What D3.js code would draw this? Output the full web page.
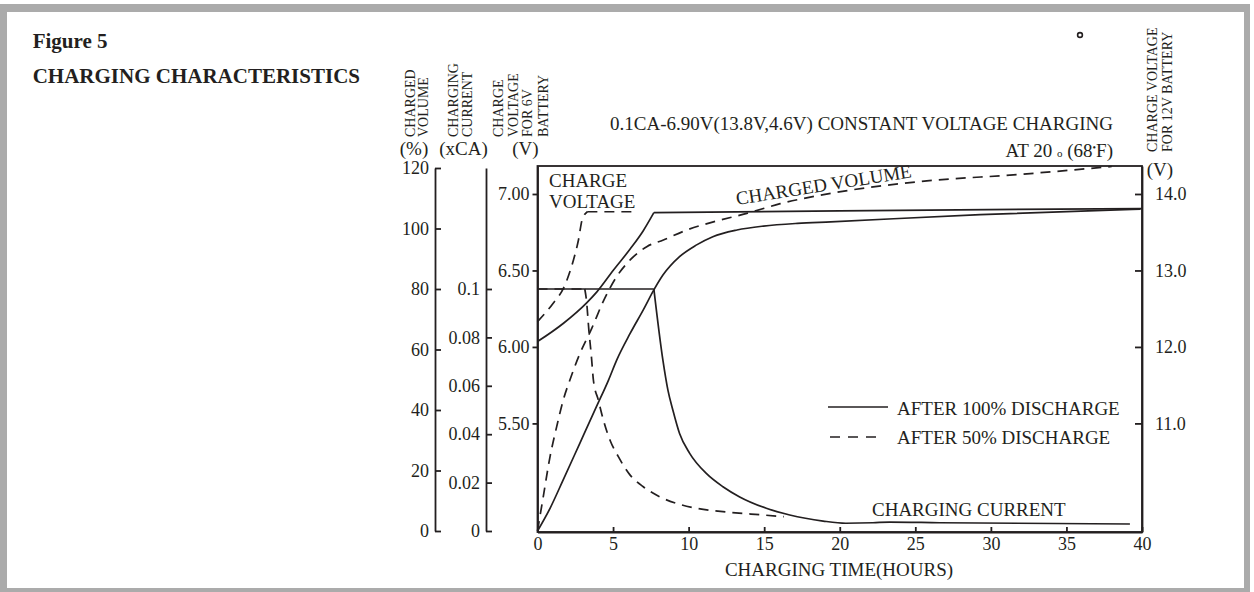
<!DOCTYPE html>
<html lang="en">
<head>
<meta charset="utf-8">
<style>
  body{ margin:0; background:#fff; }
  svg text{ font-family:"Liberation Serif","Times New Roman",serif; fill:#231f20; }
  .axis path, .axis line{ stroke:#231f20; stroke-width:1.8; }
  .axis text{ font-size:18px; }
  .curve{ fill:none; stroke:#231f20; stroke-width:1.7; }
  .dash{ stroke-dasharray:10,7; }
  .lbl{ font-size:19px; }
  .vlbl{ font-size:14px; }
</style>
</head>
<body>
<script src="https://d3js.org/d3.v7.min.js"></script>
<script>
// tick values
var hourTicks = [0, 5, 10, 15, 20, 25, 30, 35, 40];
var volTicks = [0, 20, 40, 60, 80, 100, 120];
var curTicks = [0, 0.02, 0.04, 0.06, 0.08, 0.1];
var v6Ticks = [5.5, 6.0, 6.5, 7.0];
var v12Ticks = [11, 12, 13, 14];

// [hours, value]
// charge voltage (6V battery)
var voltFull = [[0,6.035],[1.72,6.155],[3.27,6.29],[3.93,6.36],[5.03,6.503],[6.13,6.64],[7.0,6.76],[7.7,6.878],[20,6.89],[40,6.905]];
var voltHalf = [[0,6.165],[1.04,6.286],[1.72,6.384],[2.38,6.569],[2.71,6.699],[2.95,6.83],[3.3,6.884],[6.3,6.884]];
// charged volume (%)
var volFull = [[0,0],[0.83,7.5],[1.7,16.9],[2.8,29],[3.9,41.1],[4.7,49.9],[5.24,56.5],[6.13,65.3],[7.0,73.1],[7.7,79.7],[8.3,84.6],[9.4,90.7],[10.5,94.5],[11.6,97.3],[13.2,99.5],[14.95,100.8],[17.2,101.7],[19.4,102.2],[29.3,104.6],[39.9,106.4]];
var volHalf = [[0,0],[0.38,11.3],[0.83,24.6],[1.27,34.5],[1.71,43.4],[2.15,50],[2.81,58.7],[3.59,67.0],[4.36,76.0],[5.24,84.1],[6.13,89.6],[7.23,94],[8.33,96.2],[9.88,99.5],[11.64,102.2],[13.85,105],[16.06,108.2],[18.7,111],[25.3,115.5],[31.96,117.9],[38,120.5]];
// charging current (xCA)
var curFull = [[0,0.1],[7.7,0.1],[8.3,0.0705],[8.63,0.0582],[8.96,0.0499],[9.4,0.0403],[10.07,0.0321],[11.17,0.0238],[12.27,0.0183],[13.38,0.0141],[15.14,0.0094],[16.69,0.0066],[18.9,0.0041],[20.4,0.0032],[22.2,0.0034],[23.3,0.0037],[26.6,0.0034],[39.2,0.0029]];
var curHalf = [[0,0.1],[3.13,0.1],[3.24,0.0953],[3.4,0.0829],[3.56,0.0726],[3.7,0.0623],[4.03,0.054],[4.36,0.0458],[4.8,0.0375],[5.35,0.0307],[6.13,0.0231],[7.0,0.0183],[8.1,0.0141],[9.2,0.0114],[10.5,0.0094],[12.75,0.0077],[14.95,0.0066],[16.3,0.0059]];

var W = 1254, H = 592;
var box = {left:537.5, right:1142, top:166, bottom:532};

var svg = d3.select("body").append("svg")
    .attr("width", W).attr("height", H);

// gray frame
var frameCol = "#ababab";
svg.append("rect").attr("x",0).attr("y",4).attr("width",1250).attr("height",8).attr("fill",frameCol);
svg.append("rect").attr("x",0).attr("y",4).attr("width",7).attr("height",588).attr("fill",frameCol);
svg.append("rect").attr("x",1244).attr("y",4).attr("width",6).attr("height",588).attr("fill",frameCol);
svg.append("rect").attr("x",0).attr("y",588).attr("width",1250).attr("height",4).attr("fill",frameCol);

// scales
var x = d3.scaleLinear().domain([0,40]).range([box.left, box.right]);
var yVol = d3.scaleLinear().domain([0,120]).range([531,168]);
var yCur = d3.scaleLinear().domain([0,0.15]).range([531,168]);
var yV6 = d3.scaleLinear().domain([4.79,7.183]).range([box.bottom, box.top]);
var yV12 = d3.scaleLinear().domain([9.58,14.366]).range([box.bottom, box.top]);

// plot box
svg.append("rect")
    .attr("x", box.left).attr("y", box.top)
    .attr("width", box.right-box.left).attr("height", box.bottom-box.top)
    .attr("fill","none").attr("stroke","#231f20").attr("stroke-width",1.8);

// axes
svg.append("g").attr("class","axis")
    .attr("transform","translate(0,"+box.bottom+")")
    .call(d3.axisBottom(x).tickValues(hourTicks).tickSize(-5).tickSizeOuter(0).tickPadding(5));

svg.append("g").attr("class","axis")
    .attr("transform","translate("+box.left+",0)")
    .call(d3.axisLeft(yV6).tickValues(v6Ticks).tickFormat(d3.format(".2f"))
          .tickSize(5).tickSizeOuter(0).tickPadding(3));

svg.append("g").attr("class","axis")
    .attr("transform","translate("+box.right+",0)")
    .call(d3.axisRight(yV12).tickValues(v12Ticks).tickFormat(d3.format(".1f"))
          .tickSize(-7).tickSizeOuter(0).tickPadding(13));

svg.append("g").attr("class","axis")
    .attr("transform","translate(435,0)")
    .call(d3.axisLeft(yVol).tickValues(volTicks).tickSize(-6).tickSizeOuter(0).tickPadding(6));

svg.append("g").attr("class","axis")
    .attr("transform","translate(486,0)")
    .call(d3.axisLeft(yCur).tickValues(curTicks).tickFormat(function(d){ return String(+d.toFixed(2)); })
          .tickSize(-6).tickSizeOuter(0).tickPadding(6));

// curves, split at corners so they stay sharp
function curvePath(pts, ys, breaks){
    var line = d3.line()
        .x(function(d){ return x(d[0]); })
        .y(function(d){ return ys(d[1]); })
        .curve(d3.curveMonotoneX);
    var parts = [], s = 0;
    breaks.concat([pts.length-1]).forEach(function(b){
        parts.push(line(pts.slice(s, b+1)));
        s = b;
    });
    return parts.join("");
}

svg.append("path").attr("class","curve").attr("d", curvePath(voltFull, yV6, [7]));
svg.append("path").attr("class","curve dash").attr("d", curvePath(voltHalf, yV6, [6]));
svg.append("path").attr("class","curve").attr("d", curvePath(volFull, yVol, []));
svg.append("path").attr("class","curve dash").attr("d", curvePath(volHalf, yVol, []));
svg.append("path").attr("class","curve").attr("d", curvePath(curFull, yCur, [1]));
svg.append("path").attr("class","curve dash").attr("d", curvePath(curHalf, yCur, [1]));

// texts
function txt(s, xx, yy, cls, anchor){
    return svg.append("text").attr("x",xx).attr("y",yy)
        .attr("class",cls).attr("text-anchor",anchor||"start").text(s);
}
function vtxt(s, xx, yy){
    return svg.append("text").attr("class","vlbl")
        .attr("transform","translate("+xx+","+yy+") rotate(-90)").text(s);
}

svg.append("text").attr("x",32.7).attr("y",48).style("font-size","21px").style("font-weight","bold").text("Figure 5");
svg.append("text").attr("x",32.7).attr("y",83).style("font-size","21px").style("font-weight","bold").text("CHARGING CHARACTERISTICS");

vtxt("CHARGED", 415, 137); vtxt("VOLUME", 428, 137);
vtxt("CHARGING", 458, 137); vtxt("CURRENT", 472, 137);
vtxt("CHARGE", 503, 137); vtxt("VOLTAGE", 518, 137); vtxt("FOR 6V", 532, 137); vtxt("BATTERY", 548, 137);
vtxt("CHARGE VOLTAGE", 1157, 152); vtxt("FOR 12V BATTERY", 1172, 152);

txt("(%)", 414, 155, "lbl", "middle");
txt("(xCA)", 463.5, 155, "lbl", "middle");
txt("(V)", 525.5, 155, "lbl", "middle");
txt("(V)", 1160, 176, "lbl", "middle");

txt("0.1CA-6.90V(13.8V,4.6V) CONSTANT VOLTAGE CHARGING", 1113, 130, "lbl", "end");
var at = txt("AT 20 ", 1113, 157, "lbl", "end");
at.append("tspan").style("font-size","11px").text("o");
at.append("tspan").text(" (68");
at.append("tspan").attr("dy",-6).style("font-size","10px").text("•");
at.append("tspan").attr("dy",6).text("F)");

svg.append("circle").attr("cx",1080).attr("cy",35).attr("r",2.4)
    .attr("fill","none").attr("stroke","#231f20").attr("stroke-width",1.6);

txt("CHARGE", 549, 187, "lbl");
txt("VOLTAGE", 549, 208, "lbl");
svg.append("text").attr("class","lbl")
    .attr("transform","translate(737,205) rotate(-9)").text("CHARGED VOLUME");
txt("CHARGING CURRENT", 872, 516, "lbl");
txt("CHARGING TIME(HOURS)", 839, 576, "lbl", "middle");

// legend
svg.append("line").attr("x1",828).attr("x2",888).attr("y1",407).attr("y2",407)
    .attr("stroke","#231f20").attr("stroke-width",1.7);
svg.append("line").attr("x1",830).attr("x2",878).attr("y1",437).attr("y2",437)
    .attr("stroke","#231f20").attr("stroke-width",1.7).attr("stroke-dasharray","10,8");
txt("AFTER 100% DISCHARGE", 897, 415, "lbl");
txt("AFTER 50% DISCHARGE", 897, 444, "lbl");
</script>
</body>
</html>
